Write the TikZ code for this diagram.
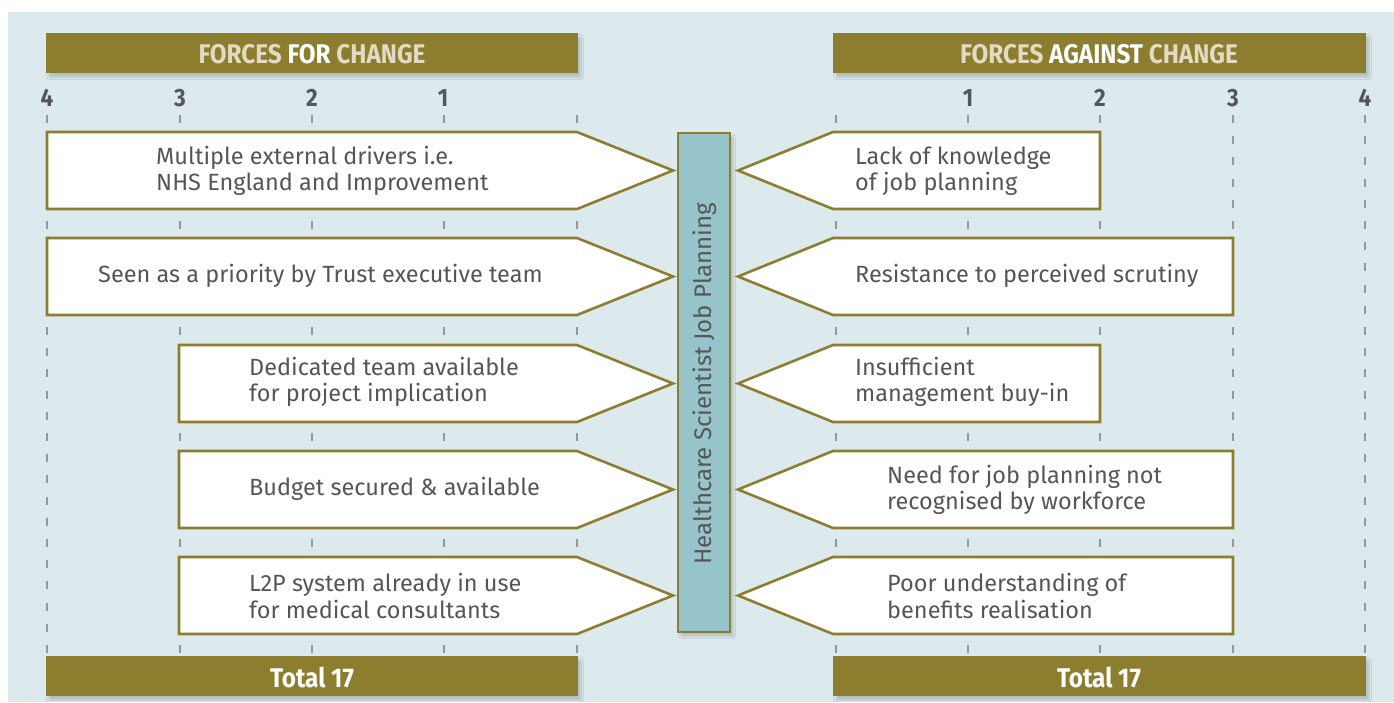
\documentclass[tikz,border=0pt]{standalone}
\usepackage{fontspec}
\setmainfont{Fira Sans}
\newfontfamily\condfont[FakeStretch=0.9]{Fira Sans}
\usetikzlibrary{shadows.blur}
\definecolor{bgc}{RGB}{220,234,237}
\definecolor{olive}{RGB}{140,125,47}
\definecolor{tealbar}{RGB}{151,196,203}
\definecolor{txt}{RGB}{85,86,90}
\definecolor{beige}{RGB}{226,219,194}
\definecolor{tick}{RGB}{150,152,154}
\tikzset{
  arrowbox/.style={draw=olive, line width=2.6pt, fill=white, line join=miter},
  lbl/.style={anchor=west, align=left, text=txt, inner sep=0pt, font=\fontsize{23.5}{26.5}\selectfont},
  hdrbar/.style={fill=olive, blur shadow={shadow xshift=3pt, shadow yshift=-4pt, shadow opacity=18, shadow blur steps=6}},
  hdrtext/.style={font=\condfont\bfseries\fontsize{27}{27}\selectfont, text=beige, inner sep=0pt},
  numtext/.style={font=\condfont\bfseries\fontsize{25}{25}\selectfont, text=txt, inner sep=0pt},
  tickline/.style={draw=tick, line width=2.2pt, dash pattern=on 8pt off 13.2pt},
}
\begin{document}
\begin{tikzpicture}[x=1pt,y=-1pt]
\useasboundingbox (0,0) rectangle (1394,702);
\fill[bgc] (8,12) rectangle (1394,702);

% dashed scale lines
\foreach \xx in {47,180,312,444,577,836,968,1100,1233,1365}
  \draw[tickline] (\xx,115) -- (\xx,655);

% headers
\path[hdrbar] (46,33) rectangle (578,73);
\node[hdrtext] (hl) at (312,54) {FORCES \textcolor{white}{FOR} CHANGE};
\path[hdrbar] (833,33) rectangle (1366,73);
\node[hdrtext] (hr) at (1099,54) {FORCES \textcolor{white}{AGAINST} CHANGE};

% scale numbers
\node[numtext] (l4) at (47,98) {4};
\node[numtext] (l3) at (180,98) {3};
\node[numtext] (l2) at (312,98) {2};
\node[numtext] (l1) at (443,98) {1};
\node[numtext] (r1) at (968,98) {1};
\node[numtext] (r2) at (1100,98) {2};
\node[numtext] (r3) at (1233,98) {3};
\node[numtext] (r4) at (1365,98) {4};

% left arrows
\foreach \x/\t in {47/132,47/238,179/345,179/451,179/557}
  \draw[arrowbox] (\x,\t) -- (577,\t) -- (673,\t+38.5) -- (577,\t+77) -- (\x,\t+77) -- cycle;
% right arrows
\foreach \x/\t in {1100/132,1233/238,1100/345,1233/451,1233/557}
  \draw[arrowbox] (\x,\t) -- (833,\t) -- (738,\t+38.5) -- (833,\t+77) -- (\x,\t+77) -- cycle;

% central bar
\path[fill=tealbar, draw=olive, line width=2.6pt, blur shadow={shadow xshift=3pt, shadow yshift=-4pt, shadow opacity=18, shadow blur steps=6}] (678,133) rectangle (730,632);
\node[text=txt, rotate=90, font=\fontsize{24}{24}\selectfont, inner sep=0pt] (hsjp) at (705,384) {Healthcare Scientist Job Planning};

% left labels
\node[lbl] (a1) at (156,171) {Multiple external drivers i.e.\\NHS England and Improvement};
\node[lbl] (a2) at (98,276) {Seen as a priority by Trust executive team};
\node[lbl] (a3) at (249,382) {Dedicated team available\\for project implication};
\node[lbl] (a4) at (249,489) {Budget secured \& available};
\node[lbl] (a5) at (249,596) {L2P system already in use\\for medical consultants};

% right labels
\node[lbl] (b1) at (855,171) {Lack of knowledge\\of job planning};
\node[lbl] (b2) at (855,276) {Resistance to perceived scrutiny};
\node[lbl] (b3) at (855,382) {Insufficient\\management buy-in};
\node[lbl] (b4) at (887,490) {Need for job planning not\\recognised by workforce};
\node[lbl] (b5) at (887,596) {Poor understanding of\\benefits realisation};

% totals
\path[hdrbar] (46,656) rectangle (578,696);
\node[hdrtext, text=white] (tl) at (312,677) {Total 17};
\path[hdrbar] (833,656) rectangle (1366,696);
\node[hdrtext, text=white] (tr) at (1099,677) {Total 17};
\end{tikzpicture}
\end{document}
